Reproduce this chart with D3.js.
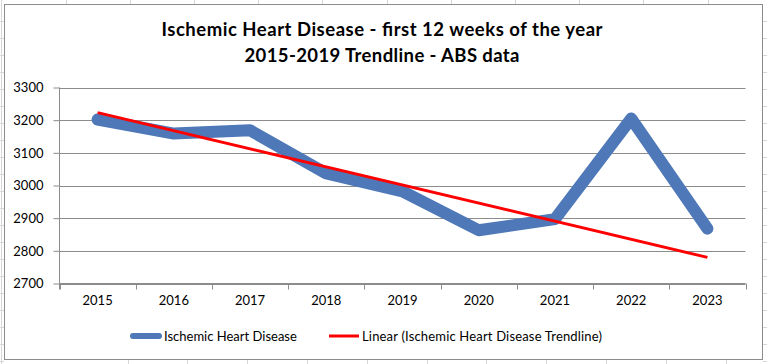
<!DOCTYPE html>
<html><head><meta charset="utf-8">
<script src="https://cdn.jsdelivr.net/npm/d3@7"></script>
<style>html,body{margin:0;padding:0;background:#fff;}svg{display:block;}</style>
</head><body>
<svg id="c" width="767" height="364"></svg>
<script>
const years = ["2015","2016","2017","2018","2019","2020","2021","2022","2023"];
const deaths = [3202, 3159, 3169, 3037, 2982, 2863, 2897, 3205, 2868];
const trendYears = ["2015","2023"];
const trendValues = [3223, 2780];
const yTicks = [2700, 2800, 2900, 3000, 3100, 3200, 3300];
const titleLines = ["Ischemic Heart Disease - first 12 weeks of the year", "2015-2019 Trendline - ABS data"];
const titleWidths = [441, 275];
const legendLabels = ["Ischemic Heart Disease", "Linear (Ischemic Heart Disease Trendline)"];

(function () {
const svg = d3.select("#c");
const W = 767, H = 364;
const font = "Lato, 'Open Sans', sans-serif";

// spreadsheet background grid
const bg = svg.append("g").attr("stroke", "#d6d6d6").attr("stroke-width", 1);
d3.range(21.5, H, 17).forEach(yy => {
  bg.append("line").attr("x1", 0).attr("x2", 4).attr("y1", yy).attr("y2", yy);
  bg.append("line").attr("x1", 763).attr("x2", W).attr("y1", yy).attr("y2", yy);
});
bg.append("line").attr("x1", 1.5).attr("x2", 1.5).attr("y1", 0).attr("y2", H);
d3.range(65.5, 760, 64.2).forEach(xx => bg.append("line").attr("x1", Math.round(xx)+0.5).attr("x2", Math.round(xx)+0.5).attr("y1", 0).attr("y2", 4));
d3.range(127.5, 760, 59.8).forEach(xx => bg.append("line").attr("x1", Math.round(xx)+0.5).attr("x2", Math.round(xx)+0.5).attr("y1", 360).attr("y2", H));

// chart frame
svg.append("rect").attr("x", 4.5).attr("y", 4.5).attr("width", 758).attr("height", 355)
  .attr("fill", "#fff").attr("stroke", "#8c8c8c").attr("stroke-width", 1);

const pL = 59.5, pR = 745.5, pT = 87.5, pB = 283.5;
const x = d3.scaleBand().domain(years).range([pL, pR]);
const y = d3.scaleLinear().domain([2700, 3300]).range([pB, pT]);

// gridlines
svg.append("g").selectAll("line").data(yTicks).join("line")
  .attr("x1", pL).attr("x2", pR)
  .attr("y1", d => Math.round(y(d)) + 0.5).attr("y2", d => Math.round(y(d)) + 0.5)
  .attr("stroke", "#8c8c8c").attr("stroke-width", 1);

// y axis
const yAxis = svg.append("g").attr("transform", `translate(${pL},0)`)
  .call(d3.axisLeft(y).tickValues(yTicks).tickSize(6).tickPadding(10).tickFormat(d3.format("d")));
yAxis.select(".domain").attr("d", `M0,${pT}V${pB + 6}`).attr("stroke", "#8c8c8c");
yAxis.selectAll(".tick line").attr("stroke", "#8c8c8c");
yAxis.selectAll(".tick text").attr("font-family", font).attr("font-size", 13).attr("fill", "#000");

// x axis
const xAxis = svg.append("g").attr("transform", `translate(0,${pB})`)
  .call(d3.axisBottom(x).tickSize(0).tickPadding(12));
xAxis.select(".domain").attr("stroke", "#8c8c8c").attr("d", `M${pL},0H${pR}`);
xAxis.selectAll(".tick text").attr("font-family", font).attr("font-size", 13).attr("fill", "#000");
const bounds = years.map(d => x(d)).concat([pR]);
xAxis.append("g").selectAll("line").data(bounds).join("line")
  .attr("x1", d => Math.round(d) + 0.5).attr("x2", d => Math.round(d) + 0.5)
  .attr("y1", 0).attr("y2", 6).attr("stroke", "#8c8c8c");

const cx = d => x(d) + x.bandwidth() / 2;

// main series
svg.append("path").datum(years.map((d, i) => [cx(d), y(deaths[i])]))
  .attr("d", d3.line()).attr("fill", "none")
  .attr("stroke", "#4e78b8").attr("stroke-width", 12)
  .attr("stroke-linejoin", "round").attr("stroke-linecap", "round");

// trendline
svg.append("path").datum(trendYears.map((d, i) => [cx(d), y(trendValues[i])]))
  .attr("d", d3.line()).attr("fill", "none")
  .attr("stroke", "#ff0000").attr("stroke-width", 3);

// title
svg.append("g").selectAll("text").data(titleLines).join("text")
  .attr("x", 382).attr("y", (d, i) => 36 + i * 25.5)
  .attr("text-anchor", "middle").attr("font-family", font)
  .attr("font-weight", "bold").attr("font-size", 18.5).attr("fill", "#000")
  .attr("textLength", (d, i) => titleWidths[i]).attr("lengthAdjust", "spacing")
  .text(d => d);

// legend
const lg = svg.append("g");
lg.append("line").attr("x1", 133).attr("x2", 159).attr("y1", 336).attr("y2", 336)
  .attr("stroke", "#4e78b8").attr("stroke-width", 6).attr("stroke-linecap", "round");
lg.append("text").attr("x", 164).attr("y", 341).attr("font-family", font).attr("font-size", 13)
  .attr("fill", "#000").text(legendLabels[0]);
lg.append("line").attr("x1", 329).attr("x2", 359).attr("y1", 336).attr("y2", 336)
  .attr("stroke", "#ff0000").attr("stroke-width", 3);
lg.append("text").attr("x", 362).attr("y", 341).attr("font-family", font).attr("font-size", 13)
  .attr("fill", "#000").attr("textLength", 240).attr("lengthAdjust", "spacing").text(legendLabels[1]);
})();
</script>
</body></html>
